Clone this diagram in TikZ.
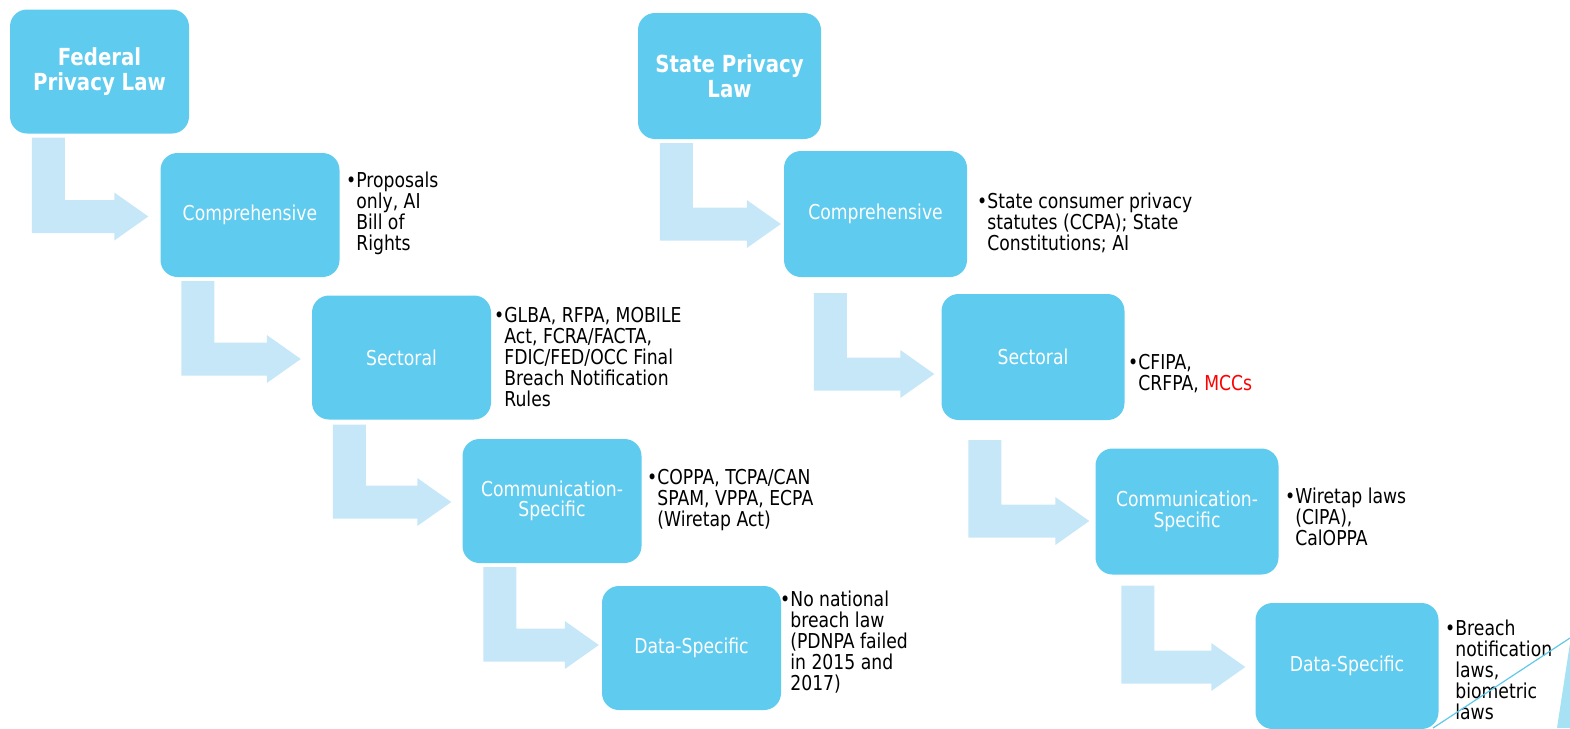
\documentclass[tikz,border=0pt]{standalone}
\usepackage{fontspec}
\setmainfont{DejaVu Sans}[FakeStretch=0.84]
\usetikzlibrary{calc}

\definecolor{boxblue}{RGB}{94,203,239}
\definecolor{arrowblue}{RGB}{198,231,247}
\definecolor{lineblue}{RGB}{95,200,235}

\tikzset{
  lawbox/.style={fill=boxblue, rounded corners=17pt, text=white, align=center,
    inner sep=0pt, minimum width=179pt, minimum height=124pt,
    font=\fontsize{20.5}{20.5}\selectfont},
  widebox/.style={lawbox, minimum width=183pt, minimum height=126pt},
  headbox/.style={font=\bfseries\fontsize{23.5}{25}\selectfont},
  notes/.style={anchor=north west, inner sep=0pt, align=left,
    font=\fontsize{20.5}{21}\selectfont},
}
\newcommand{\ind}{\hphantom{•}}
% bent block arrow: source, target, bar offset, gap, tip dx, tip dy
\newcommand{\bentarrow}[6]{%
  \fill[arrowblue] ($(#1.south west)+(#3,#4)$) coordinate (a) -- ++(33,0)
    |- ($(#2.west)+(#5-34,#6-16.5)$) -- ++(0,-7.5) -- ($(#2.west)+(#5,#6)$)
    -- ++(-34,24) -- ++(0,-7.5) -| (a) -- cycle;}

\begin{document}
\begin{tikzpicture}[x=1pt, y=-1pt]
\useasboundingbox (0,0) rectangle (1570,728);

% federal column
\node[lawbox, headbox] (fed) at (99.5,71.5) {Federal\\Privacy Law};
\node[lawbox] (fcomp) at (250,215) {Comprehensive};
\node[lawbox] (fsect) at (401.5,357.5) {Sectoral};
\node[lawbox] (fcomm) at (552,501) {Communication-\\Specific};
\node[lawbox] (fdata) at (691.5,648) {Data-Specific};

\bentarrow{fed}{fcomp}{22}{4}{-12}{1.5}
\bentarrow{fcomp}{fsect}{21}{4}{-11}{1.5}
\bentarrow{fsect}{fcomm}{21}{5}{-11}{1}
\bentarrow{fcomm}{fdata}{21}{4}{-3}{-3}

\node[notes] (fcompnote) at (346,172) {•Proposals\\\ind only, AI\\\ind Bill of\\\ind Rights};
\node[notes] (fsectnote) at (494,307) {•GLBA, RFPA, MOBILE\\\ind Act, FCRA/FACTA,\\\ind FDIC/FED/OCC Final\\\ind Breach Notification\\\ind Rules};
\node[notes] (fcommnote) at (647,469) {•COPPA, TCPA/CAN\\\ind SPAM, VPPA, ECPA\\\ind (Wiretap Act)};
\node[notes] (fdatanote) at (780,591) {•No national\\\ind breach law\\\ind (PDNPA failed\\\ind in 2015 and\\\ind 2017)};

% state column
\node[widebox, headbox] (state) at (729.5,76) {State Privacy\\Law};
\node[widebox] (scomp) at (875.5,214) {Comprehensive};
\node[widebox] (ssect) at (1033,357) {Sectoral};
\node[widebox] (scomm) at (1187,511.5) {Communication-\\Specific};
\node[widebox] (sdata) at (1347,666) {Data-Specific};

\bentarrow{state}{scomp}{22}{4}{-3}{10}
\bentarrow{scomp}{ssect}{30}{16}{-7}{17}
\bentarrow{ssect}{scomm}{27}{20}{-6}{9.5}
\bentarrow{scomm}{sdata}{26}{11}{-10}{1}

\node[notes] (scompnote) at (977,193) {•State consumer privacy\\\ind statutes (CCPA); State\\\ind Constitutions; AI};
\node[notes] (ssectnote) at (1128,354) {•CFIPA,\\\ind CRFPA, \textcolor{red}{MCCs}};
\node[notes] (scommnote) at (1285,488) {•Wiretap laws\\\ind (CIPA),\\\ind CalOPPA};
\node[notes] (sdatanote) at (1445,620) {•Breach\\\ind notification\\\ind laws,\\\ind biometric\\\ind laws};

% corner decoration
\draw[lineblue, line width=1.2pt] (1433,728) -- (1570,638);
\fill[lineblue!55] (1557,728) -- (1570,643) -- (1570,728) -- cycle;
\end{tikzpicture}
\end{document}
